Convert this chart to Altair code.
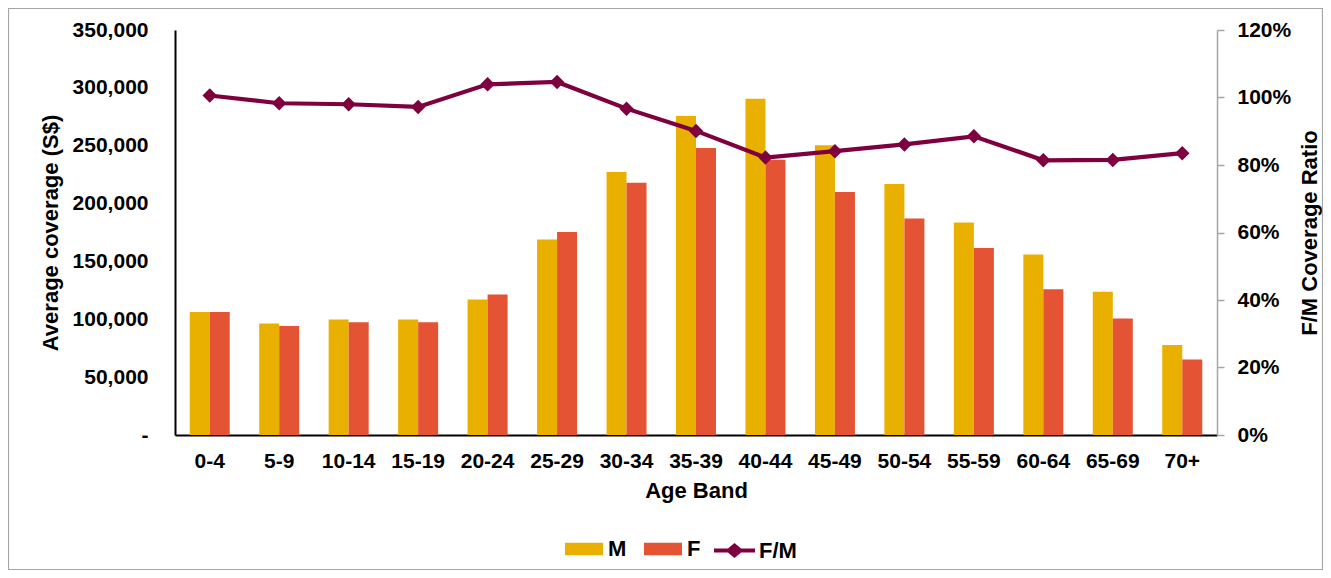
import altair as alt
import pandas as pd

ages = ["0-4", "5-9", "10-14", "15-19", "20-24", "25-29", "30-34", "35-39",
        "40-44", "45-49", "50-54", "55-59", "60-64", "65-69", "70+"]
male = [106400, 96400, 99800, 99800, 117100, 168900, 227300, 275600,
        290600, 250300, 216900, 183600, 155900, 123700, 77700]
female = [106400, 94100, 97500, 97500, 121400, 175500, 218100, 248000,
          237900, 210000, 187000, 161700, 126000, 100700, 65300]
ratio = [1.006, 0.983, 0.980, 0.972, 1.039, 1.046, 0.967, 0.901,
         0.822, 0.841, 0.861, 0.885, 0.814, 0.815, 0.835]

series_names = ["M", "F"]
series_colors = ["#EAB000", "#E55335"]
line_color = "#7F003F"
left_ticks = [0, 50000, 100000, 150000, 200000, 250000, 300000, 350000]
right_ticks = [0, 0.2, 0.4, 0.6, 0.8, 1.0, 1.2]

bar_df = pd.DataFrame(
    [{"age": a, "series": "M", "value": v} for a, v in zip(ages, male)]
    + [{"age": a, "series": "F", "value": v} for a, v in zip(ages, female)]
)
line_df = pd.DataFrame({"age": ages, "ratio": ratio, "label": ["F/M"] * len(ages)})

FONT = "Liberation Sans"
W, H = 1042, 405
LBL = 21

x_enc = alt.X(
    "age:N", sort=ages,
    scale=alt.Scale(paddingInner=0.424, paddingOuter=0.212),
    axis=alt.Axis(title="Age Band", labelAngle=0, ticks=False, domainColor="black",
                  domainWidth=2, labelPadding=15, titlePadding=9,
                  labelFontSize=LBL, labelFontWeight="bold", labelColor="black",
                  titleFontSize=22, titleFontWeight="bold", titleColor="black", grid=False),
)

frame = alt.Chart(pd.DataFrame({"a": [0]})).mark_rect(
    fill=None, stroke="#A6A6A6", strokeWidth=1.2
).encode(
    x=alt.value(-166.5), x2=alt.value(W + 105.5),
    y=alt.value(-21.5), y2=alt.value(H + 134.5),
)

bars = alt.Chart(bar_df).mark_bar().encode(
    x=x_enc,
    xOffset=alt.XOffset("series:N", sort=series_names,
                        scale=alt.Scale(paddingInner=0, paddingOuter=0)),
    y=alt.Y("value:Q", scale=alt.Scale(domain=[0, 350000], nice=False),
            axis=alt.Axis(title="Average coverage (S$)", values=left_ticks,
                          labelExpr="datum.value == 0 ? '-\u00a0\u00a0' : format(datum.value, ',')",
                          ticks=False, domainColor="black", domainWidth=2, grid=False,
                          labelFontSize=LBL, labelFontWeight="bold", labelColor="black",
                          labelPadding=27, titleFontSize=22, titleFontWeight="bold",
                          titleColor="black", titlePadding=10)),
    color=alt.Color("series:N",
                    scale=alt.Scale(domain=series_names, range=series_colors),
                    legend=alt.Legend(title=None, orient="none", direction="horizontal",
                                      legendX=390, legendY=500,
                                      symbolType="M-1,-0.325H1V0.325H-1Z", symbolSize=1444,
                                      symbolStrokeWidth=0,
                                      labelFontSize=22, labelFontWeight="bold",
                                      labelColor="black", labelOffset=5,
                                      columnPadding=17)),
)

y_right = alt.Y("ratio:Q", scale=alt.Scale(domain=[0, 1.2], nice=False),
                axis=alt.Axis(orient="right", title="F/M Coverage Ratio", format=".0%",
                              values=right_ticks, tickColor="#A6A6A6", tickSize=7,
                              tickWidth=1.5, domainColor="#A6A6A6", domainWidth=1.5,
                              grid=False, labelPadding=13, labelFontSize=LBL,
                              labelFontWeight="bold", labelColor="black",
                              titleFontSize=22, titleFontWeight="bold", titleColor="black",
                              titleAngle=270, titleBaseline="top", titlePadding=9))

line = alt.Chart(line_df).mark_line(color=line_color, strokeWidth=4.2).encode(
    x=alt.X("age:N", sort=ages), y=y_right
)
points = alt.Chart(line_df).mark_point(
    shape="diamond", filled=True, color=line_color, size=210, opacity=1
).encode(x=alt.X("age:N", sort=ages), y=y_right)

legend_path = ("M-1,-0.1L-0.32,-0.1L0,-0.37L0.32,-0.1L1,-0.1L1,0.1L0.32,0.1"
               "L0,0.37L-0.32,0.1L-1,0.1Z")
helper = alt.Chart(line_df).mark_point(filled=True, color=line_color).encode(
    shape=alt.Shape("label:N",
                    scale=alt.Scale(domain=["F/M"], range=[legend_path]),
                    legend=alt.Legend(title=None, orient="none", direction="horizontal",
                                      legendX=539, legendY=500, symbolSize=1681,
                                      symbolFillColor=line_color, symbolStrokeColor=line_color,
                                      symbolStrokeWidth=0, symbolOpacity=1,
                                      labelFontSize=22, labelFontWeight="bold",
                                      labelColor="black", labelOffset=4))
).transform_filter("false")

right_layer = alt.layer(line, points, helper)

chart = alt.layer(frame, bars, right_layer).resolve_scale(
    y="independent", color="independent", shape="independent"
).properties(
    width=W, height=H,
    autosize=alt.AutoSizeParams(type="none"),
    padding={"left": 167, "top": 22, "right": 106, "bottom": 135},
    background="white",
).configure(font=FONT).configure_view(strokeWidth=0)

chart.save("out.html", embed_options={"renderer": "svg", "actions": False})
